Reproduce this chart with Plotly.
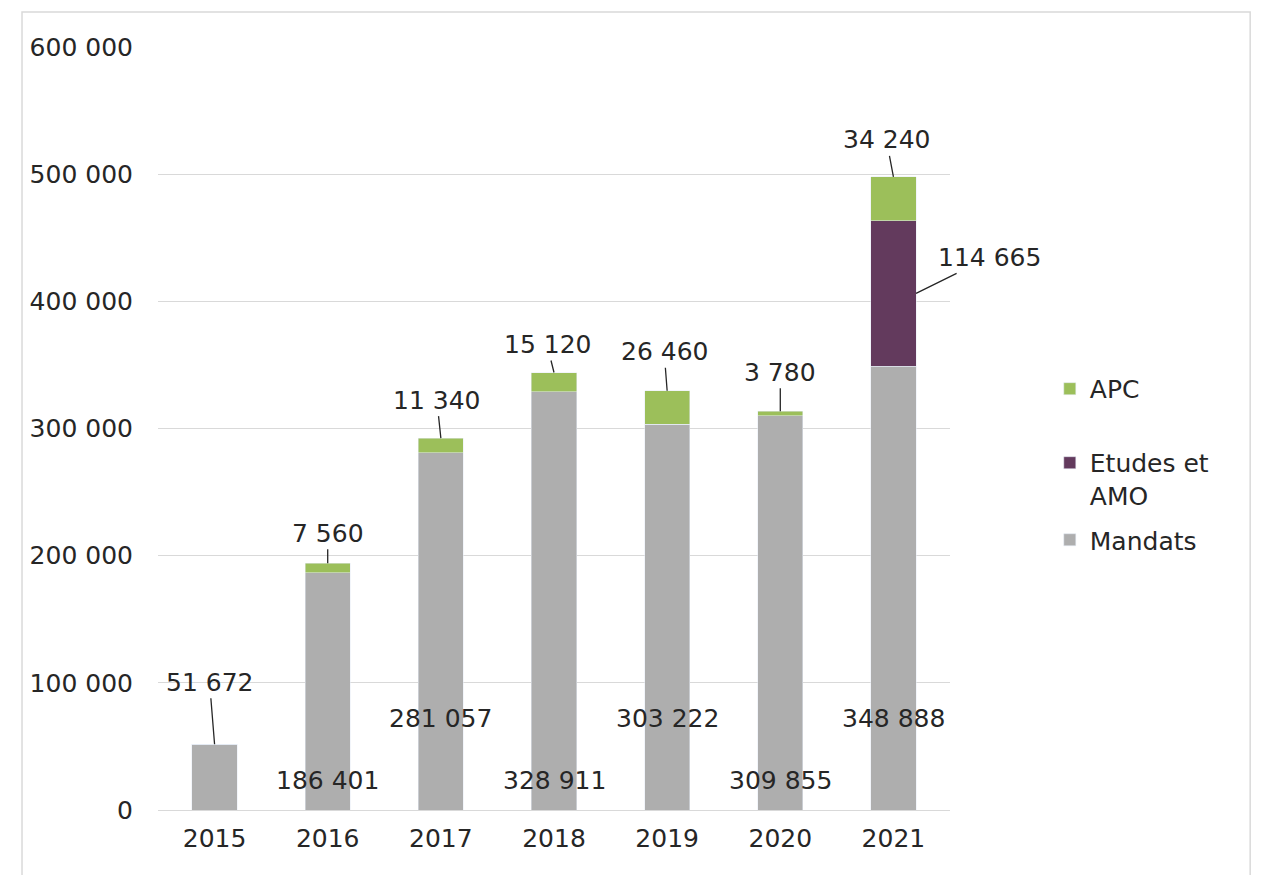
import plotly.graph_objects as go

years = ["2015", "2016", "2017", "2018", "2019", "2020", "2021"]
mandats = [51672, 186401, 281057, 328911, 303222, 309855, 348888]
etudes = [0, 0, 0, 0, 0, 0, 114665]
apc = [0, 7560, 11340, 15120, 26460, 3780, 34240]
y_ticks = [0, 100000, 200000, 300000, 400000, 500000, 600000]
y_tick_text = ["0", "100 000", "200 000", "300 000", "400 000", "500 000", "600 000"]

GREY = "#AEAEAE"
PURPLE = "#633A5D"
GREEN = "#9CBF5A"
TXT = "#262626"
FONT = "DejaVu Sans"
FS = 25


def fmt(v):
    return f"{v:,}".replace(",", " ")


fig = go.Figure()
fig.add_bar(x=years, y=mandats, name="Mandats", marker_color=GREY, legend="legend3")
fig.add_bar(x=years, y=etudes, name="Etudes et<br>AMO", marker_color=PURPLE, legend="legend")
fig.add_bar(x=years, y=apc, name="APC", marker_color=GREEN, legend="legend2")

ann = []
# Mandats labels (alternating positions as in reference)
mand_shift = [None, 30, 92, 30, 92, 30, 92]
for i, v in enumerate(mandats):
    if mand_shift[i] is None:
        ann.append(dict(x=i, y=v, text=fmt(v), showarrow=True, arrowhead=0,
                        arrowwidth=1.3, arrowcolor=TXT, ax=-5, ay=-62))
    else:
        ann.append(dict(x=i, y=0, text=fmt(v), showarrow=False, yshift=mand_shift[i],
                        yanchor="middle"))

# APC labels
apc_off = [None, (0, -30), (-4, -38), (-7, -28), (-3, -39), (0, -39), (-7, -37)]
for i, v in enumerate(apc):
    if v == 0:
        continue
    top = mandats[i] + etudes[i] + apc[i]
    ax, ay = apc_off[i]
    ann.append(dict(x=i, y=top, text=fmt(v), showarrow=True, arrowhead=0,
                    arrowwidth=1.3, arrowcolor=TXT, ax=ax, ay=ay, standoff=0))

# Etudes label
ann.append(dict(x=6.2, y=mandats[6] + etudes[6] / 2, text=fmt(etudes[6]), showarrow=True,
                arrowhead=0, arrowwidth=1.3, arrowcolor=TXT, ax=73, ay=-36))

for a in ann:
    a["font"] = dict(family=FONT, size=FS, color=TXT)

LX = 1.126
leg_font = dict(family=FONT, size=FS, color=TXT)
fig.update_layout(
    barmode="stack",
    bargap=0.6,
    width=1263,
    height=875,
    margin=dict(l=150, r=321, t=39, b=73),
    paper_bgcolor="white",
    plot_bgcolor="white",
    font=dict(family=FONT, size=FS, color=TXT),
    annotations=ann,
    showlegend=True,
    legend2=dict(x=LX, y=0.582, xanchor="left", yanchor="top", font=leg_font),
    legend=dict(x=LX, y=0.485, xanchor="left", yanchor="top", valign="top", font=leg_font),
    legend3=dict(x=LX, y=0.384, xanchor="left", yanchor="top", font=leg_font),
    shapes=[dict(type="rect", xref="paper", yref="paper",
                 x0=-0.1717, x1=1.379, y0=-0.2, y1=1.046,
                 line=dict(color="#D9D9D9", width=1.5), fillcolor="rgba(0,0,0,0)",
                 layer="below")],
)
fig.update_yaxes(range=[0, 600000], tickvals=y_ticks, ticktext=y_tick_text,
                 showgrid=True, gridcolor="#D9D9D9", gridwidth=1.2, zeroline=False,
                 showline=False, ticks="", ticklabelstandoff=24,
                 tickfont=dict(family=FONT, size=FS, color=TXT))
fig.update_xaxes(type="category", range=[-0.5, 6.5], autorange=False,
                 showline=True, linecolor="#D9D9D9", linewidth=1.2,
                 ticks="", tickfont=dict(family=FONT, size=FS, color=TXT),
                 ticklabelstandoff=6)

fig.write_html("out.html")
